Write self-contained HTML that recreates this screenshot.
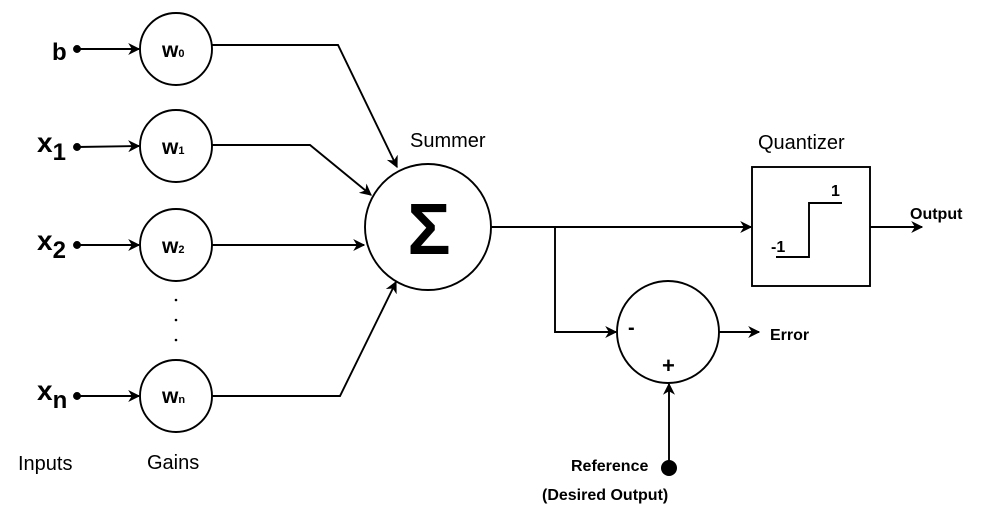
<!DOCTYPE html>
<html><head><meta charset="utf-8"><style>
body{margin:0;background:#fff}
svg{display:block;font-family:"Liberation Sans",sans-serif}
</style></head><body>
<svg width="1000" height="530" viewBox="0 0 1000 530">
<defs><marker id="ar" viewBox="0 0 10 10" refX="9" refY="5" markerWidth="12" markerHeight="12" markerUnits="userSpaceOnUse" orient="auto"><path d="M0,0 L10,5 L0,10 L3,5 z" fill="#000"/></marker></defs>
<g stroke="#000" stroke-width="1.9" fill="none">
<g><circle cx="77" cy="49" r="3" fill="#000"/><line x1="77" y1="49" x2="139" y2="49" marker-end="url(#ar)"/></g>
<g><circle cx="77" cy="147" r="3" fill="#000"/><line x1="77" y1="147" x2="139" y2="146" marker-end="url(#ar)"/></g>
<g><circle cx="77" cy="245" r="3" fill="#000"/><line x1="77" y1="245" x2="139" y2="245" marker-end="url(#ar)"/></g>
<g><circle cx="77" cy="396" r="3" fill="#000"/><line x1="77" y1="396" x2="139" y2="396" marker-end="url(#ar)"/></g>
<circle cx="176" cy="49" r="36"/>
<circle cx="176" cy="146" r="36"/>
<circle cx="176" cy="245" r="36"/>
<circle cx="176" cy="396" r="36"/>
<polyline points="212,45 338,45 397,167" marker-end="url(#ar)"/>
<polyline points="212,145 310,145 371,195" marker-end="url(#ar)"/>
<polyline points="212,245 364,245" marker-end="url(#ar)"/>
<polyline points="212,396 340,396 396,282" marker-end="url(#ar)"/>
<circle cx="428" cy="227" r="63"/>
<polyline points="491,227 751,227" marker-end="url(#ar)"/>
<rect x="752" y="167" width="118" height="119"/>
<polyline points="776,257 809,257 809,203 842,203"/>
<line x1="870" y1="227" x2="922" y2="227" marker-end="url(#ar)"/>
<polyline points="555,227 555,332 616,332" marker-end="url(#ar)"/>
<circle cx="668" cy="332" r="51"/>
<line x1="719" y1="332" x2="759" y2="332" marker-end="url(#ar)"/>
<line x1="669" y1="467" x2="669" y2="384" marker-end="url(#ar)"/>
</g>
<circle cx="669" cy="468" r="8" fill="#000"/>
<g font-weight="bold" fill="#000">
<text x="52" y="60" font-size="24">b</text>
<text x="37" y="152" font-size="28">x<tspan font-size="24" dy="8">1</tspan></text>
<text x="37" y="250" font-size="28">x<tspan font-size="24" dy="8">2</tspan></text>
<text x="37" y="400" font-size="28">x<tspan font-size="24" dy="8">n</tspan></text>
<text x="162" y="57" font-size="21">w<tspan font-size="11">0</tspan></text>
<text x="162" y="154" font-size="21">w<tspan font-size="11">1</tspan></text>
<text x="162" y="253" font-size="21">w<tspan font-size="11">2</tspan></text>
<text x="162" y="403" font-size="21">w<tspan font-size="11">n</tspan></text>
<text x="831" y="196" font-size="16">1</text>
<text x="771" y="252" font-size="16">-1</text>
<text x="910" y="219" font-size="16">Output</text>
<text x="628" y="334" font-size="20">-</text>
<text x="662" y="373" font-size="22">+</text>
<text x="770" y="340" font-size="16">Error</text>
<text x="571" y="471" font-size="16">Reference</text>
<text x="542" y="500" font-size="16">(Desired Output)</text>
<text x="429" y="254" font-size="72" text-anchor="middle">Σ</text>
</g>
<g fill="#000">
<text x="410" y="147" font-size="20">Summer</text>
<text x="758" y="149" font-size="20">Quantizer</text>
<text x="18" y="470" font-size="20">Inputs</text>
<text x="147" y="469" font-size="20">Gains</text>
<circle cx="176" cy="300" r="1.3"/>
<circle cx="176" cy="320" r="1.3"/>
<circle cx="176" cy="340" r="1.3"/>
</g>
</svg>
</body></html>
